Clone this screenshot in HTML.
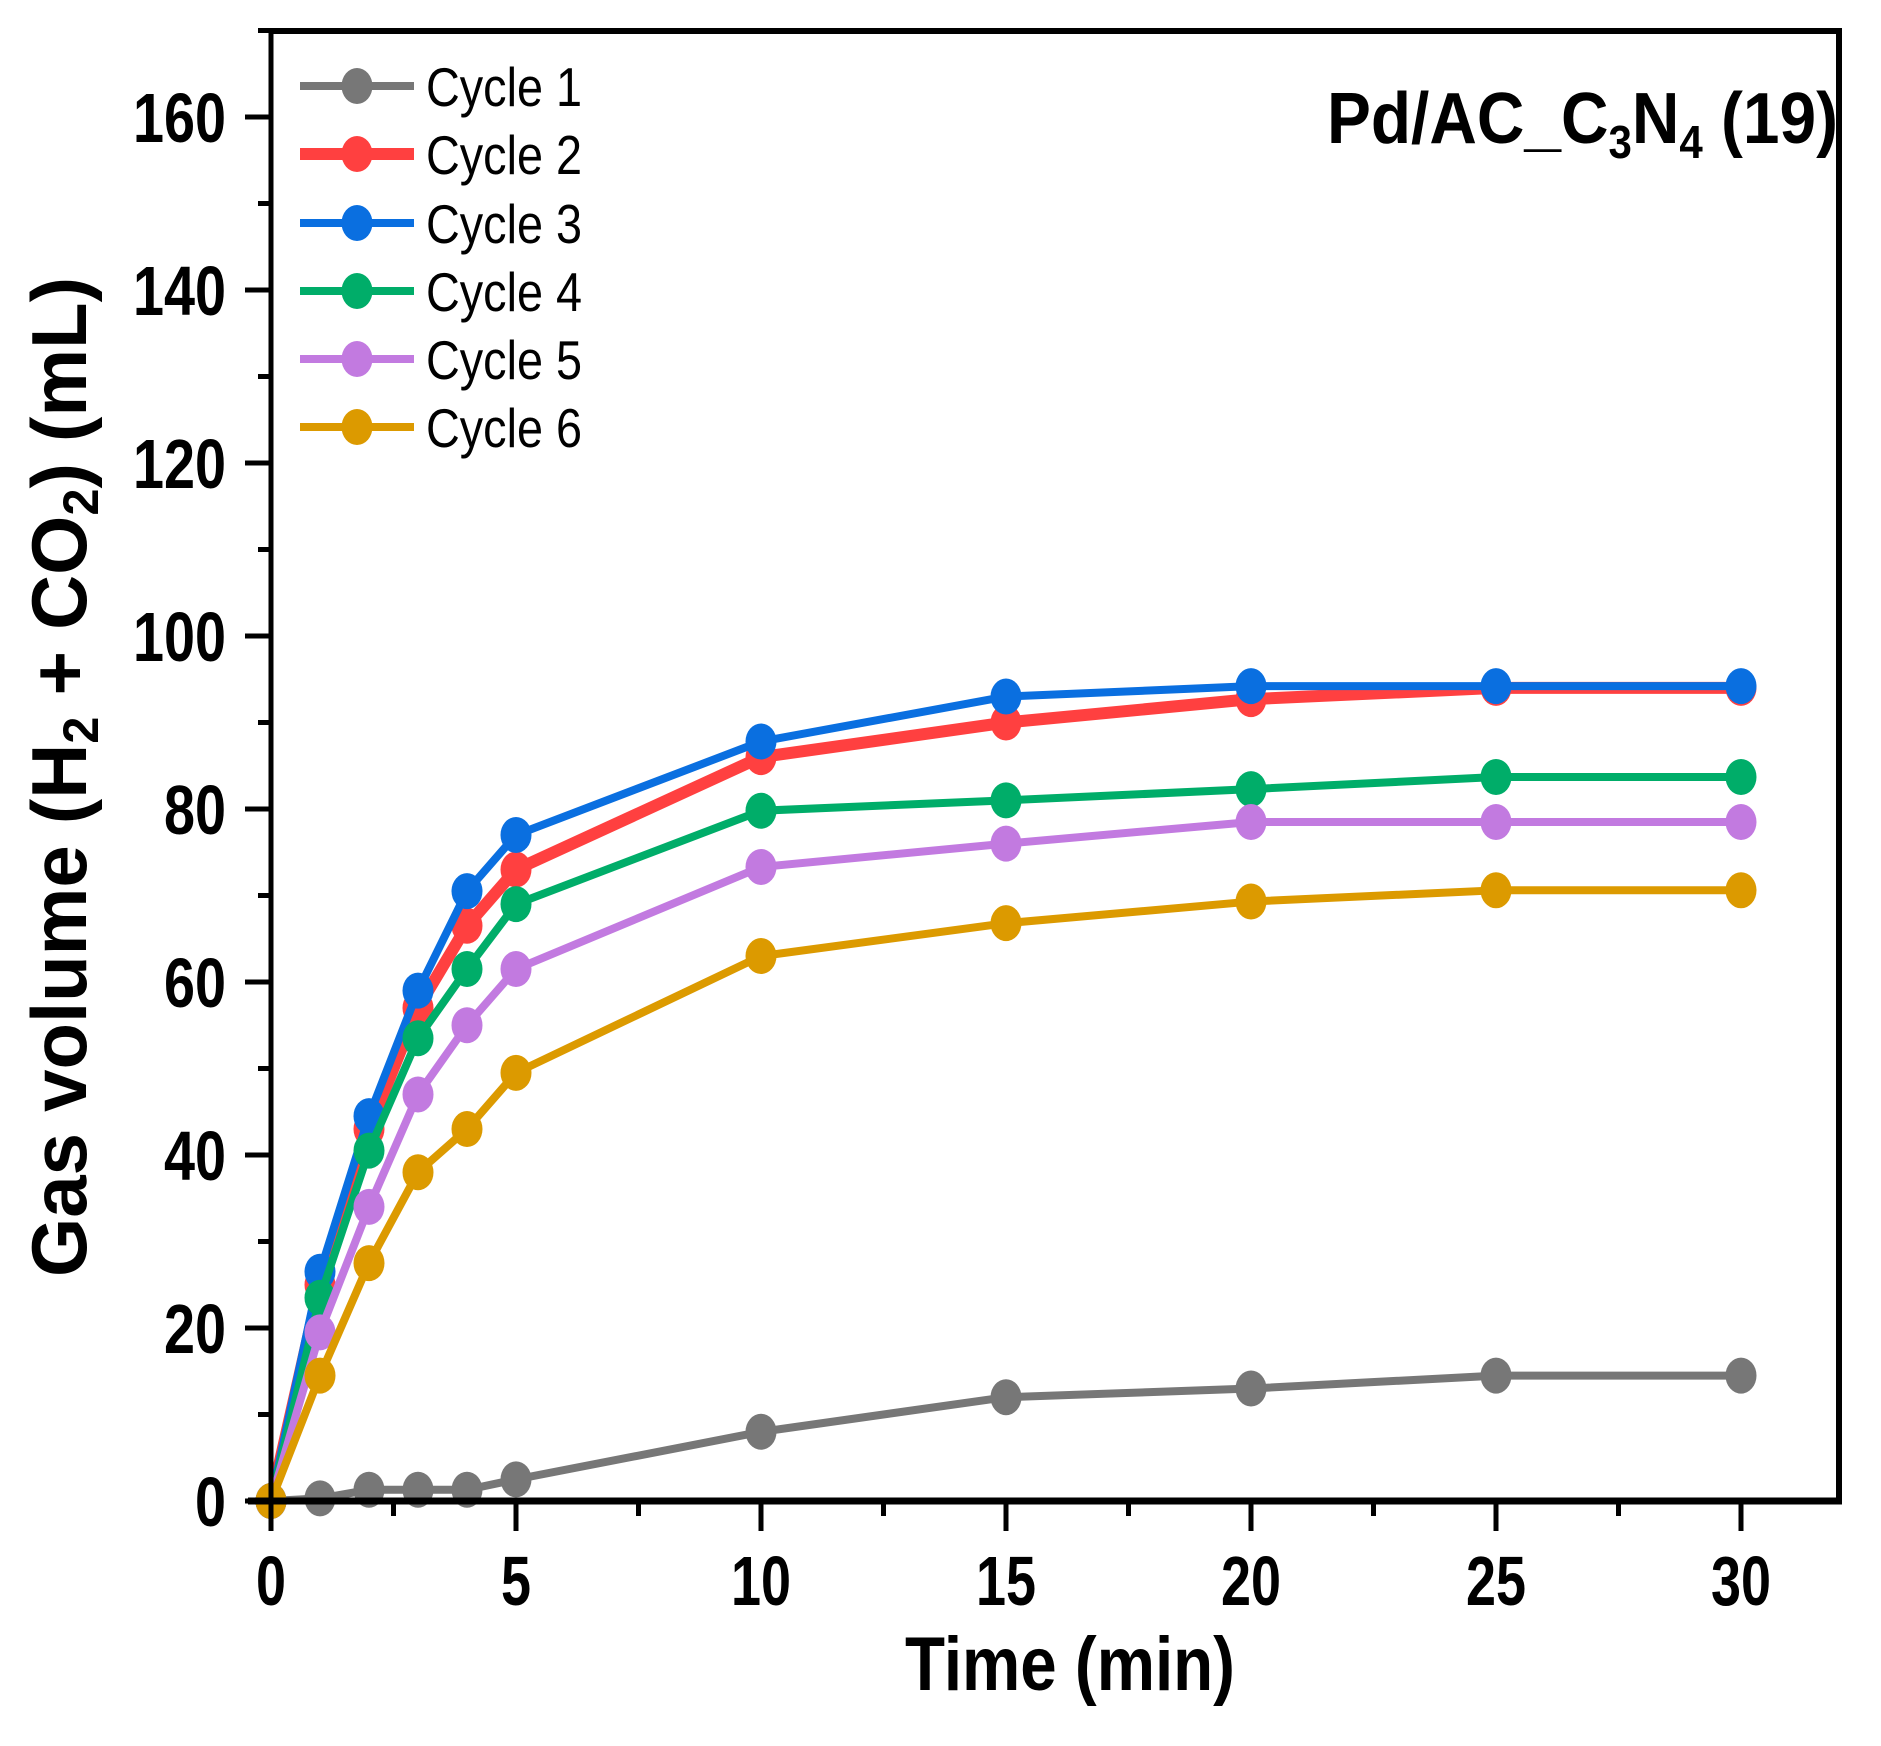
<!DOCTYPE html>
<html><head><meta charset="utf-8"><style>
html,body{margin:0;padding:0;background:#fff;}
svg{display:block;font-family:"Liberation Sans",Arial,sans-serif;}
</style></head><body>
<svg width="1881" height="1746" viewBox="0 0 1881 1746" xmlns="http://www.w3.org/2000/svg">
<rect width="1881" height="1746" fill="#fff"/>
<g id="series"></g>
<line x1="271" y1="31" x2="1842" y2="31" stroke="#000" stroke-width="6"/>
<line x1="1839" y1="28" x2="1839" y2="1504" stroke="#000" stroke-width="6"/>
<line x1="271" y1="28" x2="271" y2="1504" stroke="#000" stroke-width="5"/>
<line x1="248" y1="1501" x2="1842" y2="1501" stroke="#000" stroke-width="7"/>
<g stroke="#000" stroke-width="5" id="ticks"></g>
<g font-weight="bold" font-size="70" id="labels"></g>
<text x="1070" y="1690" font-size="76" font-weight="bold" text-anchor="middle" textLength="330" lengthAdjust="spacingAndGlyphs">Time (min)</text>
<text transform="translate(86,777) rotate(-90)" font-size="78" font-weight="bold" text-anchor="middle" textLength="1000" lengthAdjust="spacingAndGlyphs">Gas volume (H<tspan font-size="50" dy="12">2</tspan><tspan dy="-12"> + CO</tspan><tspan font-size="50" dy="12">2</tspan><tspan dy="-12">) (mL)</tspan></text>
<text x="1327" y="143" font-size="72" font-weight="bold" textLength="511" lengthAdjust="spacingAndGlyphs">Pd/AC_C<tspan font-size="46" dy="15">3</tspan><tspan dy="-15">N</tspan><tspan font-size="46" dy="15">4</tspan><tspan dy="-15"> (19)</tspan></text>
<g id="legend" font-size="55"></g>
</svg>
<script>
var NS="http://www.w3.org/2000/svg";
function X(t){return 271+49*t;}function Y(v){return 1501-8.65*v;}
var T=[0,1,2,3,4,5,10,15,20,25,30];
var S=[
["Cycle 1","#777777",[0,0.3,1.3,1.3,1.3,2.5,8,12,13,14.5,14.5],8],
["Cycle 2","#ff4040",[0,25,43,57,66.5,73,86,90,92.7,94,94],12],
["Cycle 3","#0a6fe0",[0,26.5,44.5,59,70.5,77,87.8,93,94.2,94.2,94.2],8],
["Cycle 4","#00ad69",[0,23.5,40.5,53.5,61.5,69,79.8,81,82.3,83.7,83.7],8],
["Cycle 5","#c27ae0",[0,19.5,34,47,55,61.5,73.3,76,78.5,78.5,78.5],8],
["Cycle 6","#dc9a00",[0,14.5,27.5,38,43,49.5,63,66.8,69.3,70.6,70.6],8]];
function el(n,a,p){var e=document.createElementNS(NS,n);for(var k in a)e.setAttribute(k,a[k]);p.appendChild(e);return e;}
var g=document.getElementById("series");
S.forEach(function(s){
 var pts=T.map(function(t,i){return X(t)+","+Y(s[2][i]);}).join(" ");
 el("polyline",{points:pts,fill:"none",stroke:s[1],"stroke-width":s[3],"stroke-linejoin":"round"},g);
 T.forEach(function(t,i){el("ellipse",{cx:X(t),cy:Y(s[2][i]),rx:15.5,ry:18,fill:s[1]},g);});
});
var tk=document.getElementById("ticks"),lb=document.getElementById("labels");
for(var v=0;v<=170;v+=10){var maj=v%20==0;el("line",{x1:maj?245:258,x2:271,y1:Y(v),y2:Y(v)},tk);
 if(maj){var t=el("text",{x:226,y:Y(v)+25,"text-anchor":"end",textLength:String(v).length*31,lengthAdjust:"spacingAndGlyphs"},lb);t.textContent=v;}}
for(var t=0;t<=30;t+=2.5){var maj=t%5==0;el("line",{x1:X(t),x2:X(t),y1:1501,y2:maj?1531:1516},tk);
 if(maj){var q=el("text",{x:X(t),y:1605,"text-anchor":"middle",textLength:String(t).length*30,lengthAdjust:"spacingAndGlyphs"},lb);q.textContent=t;}}
var L=document.getElementById("legend"),ry=[86,154,223,291,359,427];
S.forEach(function(s,i){el("line",{x1:300,x2:414,y1:ry[i],y2:ry[i],stroke:s[1],"stroke-width":s[3]},L);
 el("ellipse",{cx:357,cy:ry[i],rx:15.5,ry:18,fill:s[1]},L);
 var q=el("text",{x:426,y:ry[i]+20,textLength:156,lengthAdjust:"spacingAndGlyphs"},L);q.textContent=s[0];});
</script>
</body></html>
